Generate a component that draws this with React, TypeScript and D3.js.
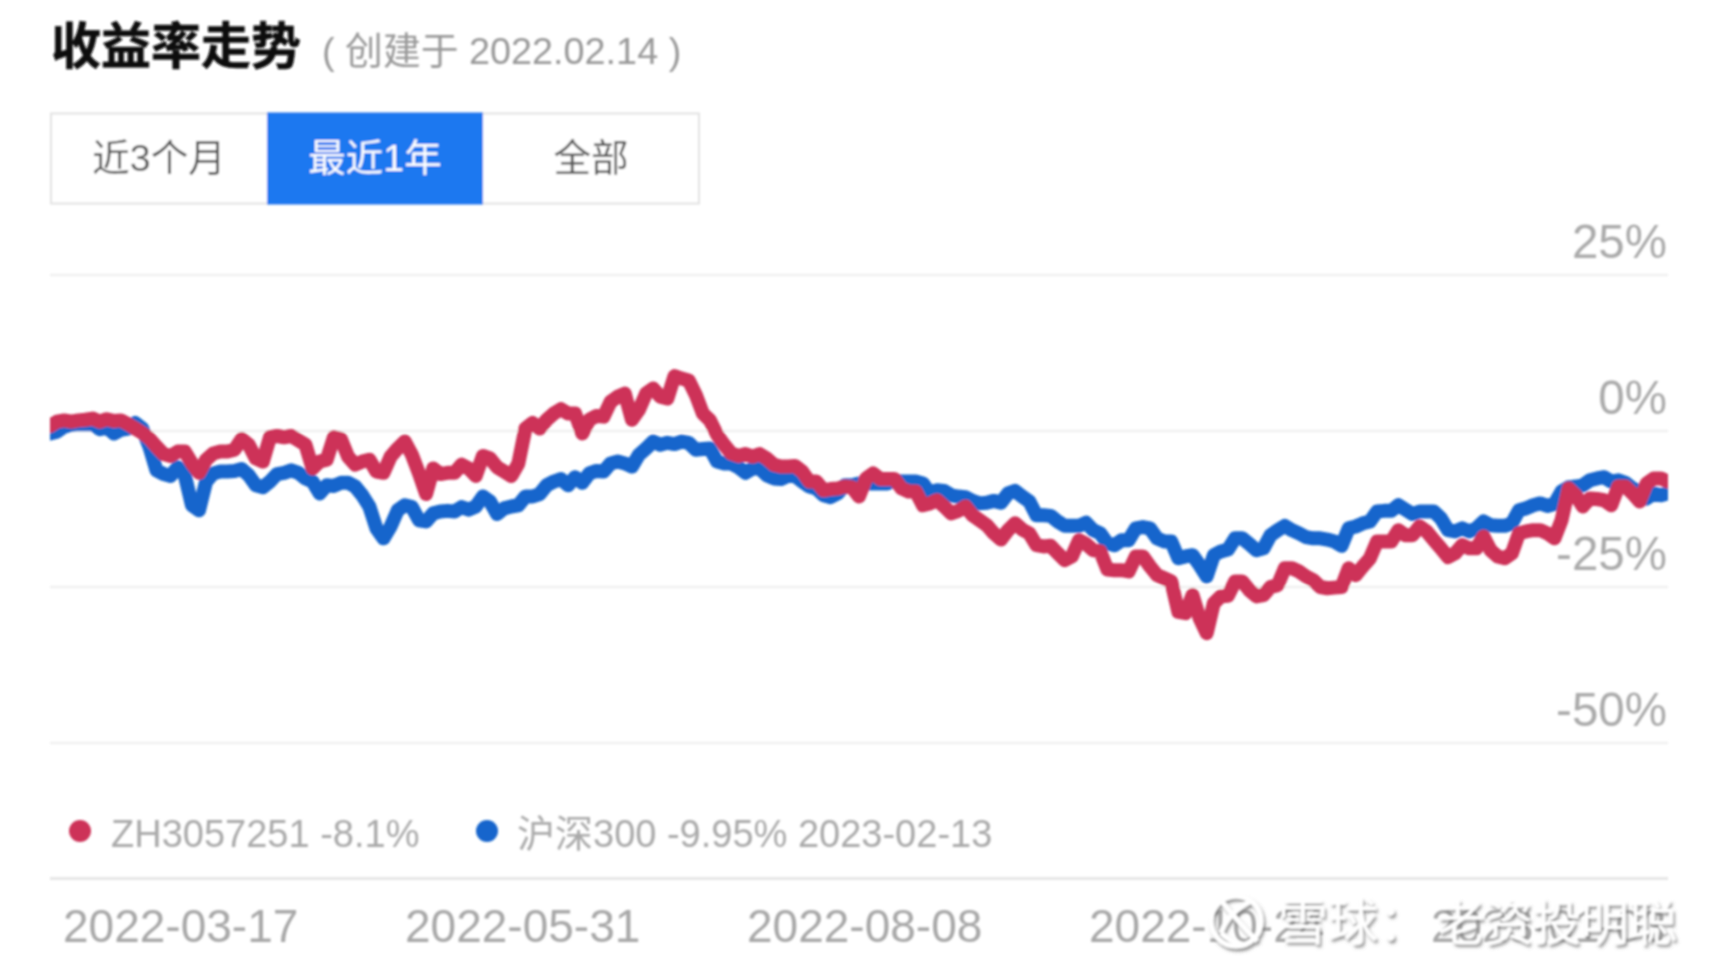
import React from 'react';
import * as d3 from 'd3';

const tabs = ['近3个月', '最近1年', '全部'];
const activeTab = '最近1年';
const yTicks = [25, 0, -25, -50];
const dateLabels = ['2022-03-17', '2022-05-31', '2022-08-08', '2022-10-24', '2023-01-03'];

// one value per trading day, in percent
const portfolio = [
  0.8, 1.5, 1.7, 1.5, 1.7, 1.8, 2.0, 1.5, 1.9, 1.6, 1.7, 1.1, 0.4, -0.3, -1.2, -2.5, -3.7, -4.0, -3.3, -3.3,
  -5.2, -6.7, -4.6, -3.6, -3.3, -3.3, -3.0, -1.3, -2.2, -4.4, -4.9, -1.0, -0.8, -1.0, -0.8, -1.5, -2.2, -6.0, -4.9, -4.6,
  -1.0, -1.3, -4.1, -5.4, -4.9, -4.6, -6.5, -6.7, -4.1, -2.8, -1.7, -3.8, -6.8, -10.1, -6.0, -6.9, -6.7, -6.7, -5.4, -6.0,
  -7.2, -4.0, -4.4, -5.8, -6.5, -7.2, -5.2, 0.4, 1.3, 0.4, 1.8, 2.8, 3.5, 2.8, 2.8, -0.4, 1.8, 2.4, 2.3, 4.7,
  5.5, 6.0, 1.8, 3.4, 6.0, 6.8, 5.5, 5.2, 8.8, 8.4, 8.1, 5.8, 2.8, 1.7, -0.6, -2.2, -3.6, -4.0, -3.7, -4.1,
  -3.7, -4.4, -5.4, -5.7, -5.7, -5.6, -6.5, -8.1, -8.1, -9.5, -9.3, -9.2, -8.9, -9.0, -10.5, -7.6, -6.8, -7.7, -7.7, -7.7,
  -9.2, -9.7, -9.7, -11.9, -11.6, -11.1, -12.1, -13.2, -12.8, -12.1, -13.5, -14.3, -15.1, -16.4, -17.4, -15.9, -14.8, -15.8, -16.4, -18.3,
  -18.5, -18.4, -19.6, -20.7, -20.1, -17.5, -18.1, -19.1, -19.3, -22.2, -22.3, -22.3, -22.5, -20.1, -20.1, -21.7, -23.1, -23.6, -24.1, -29.0,
  -29.2, -26.3, -30.0, -32.4, -27.6, -26.5, -26.4, -24.1, -24.1, -25.5, -26.5, -26.3, -25.0, -24.7, -22.0, -22.0, -22.5, -23.3, -23.9, -25.0,
  -25.2, -25.1, -25.0, -22.0, -23.1, -21.7, -20.4, -17.7, -17.7, -17.7, -15.9, -16.7, -16.7, -15.3, -16.1, -17.5, -18.8, -20.2, -19.6, -18.3,
  -18.8, -18.8, -16.9, -19.1, -20.1, -20.4, -19.6, -16.4, -16.1, -15.9, -15.9, -16.4, -17.2, -14.3, -9.2, -10.3, -12.1, -10.8, -10.9, -11.1,
  -11.9, -8.9, -8.9, -10.0, -11.3, -8.4, -7.6, -7.6, -8.1,
];

const csi300 = [
  -0.4, -0.1, 0.7, 1.0, 1.1, 1.1, 1.1, 0.3, 0.6, -0.4, 0.2, 0.4, 1.3, 0.4, -2.5, -6.3, -6.9, -7.2, -5.8, -7.1,
  -11.9, -12.7, -8.1, -6.8, -6.5, -6.5, -6.4, -6.1, -7.1, -8.7, -9.0, -8.1, -6.9, -6.7, -6.3, -6.7, -7.6, -8.1, -10.0, -8.7,
  -8.8, -8.3, -8.3, -8.9, -10.3, -12.1, -15.6, -17.2, -15.3, -12.7, -11.9, -12.2, -14.3, -14.5, -13.2, -12.9, -12.8, -12.9, -12.2, -12.6,
  -12.1, -10.5, -11.3, -13.3, -12.4, -12.1, -11.9, -10.5, -10.5, -10.1, -8.7, -8.1, -7.7, -8.7, -7.4, -8.3, -6.8, -6.4, -6.5, -5.2,
  -4.9, -5.2, -5.7, -3.8, -2.8, -1.7, -2.2, -1.9, -2.1, -1.7, -1.9, -3.0, -2.9, -2.8, -4.9, -5.2, -5.2, -5.8, -6.7, -6.0,
  -6.0, -7.1, -7.6, -7.7, -7.2, -7.2, -8.1, -8.9, -9.2, -10.3, -10.6, -10.0, -8.7, -8.7, -8.4, -8.4, -8.4, -8.4, -8.4, -7.9,
  -8.1, -8.1, -8.1, -8.4, -10.0, -9.5, -9.6, -10.3, -10.5, -10.6, -11.2, -11.6, -11.5, -11.2, -11.5, -10.0, -9.6, -10.5, -11.3, -13.5,
  -13.5, -13.6, -14.5, -15.2, -15.2, -15.2, -14.7, -15.9, -16.4, -18.0, -18.3, -17.5, -17.5, -15.6, -15.4, -15.6, -17.2, -17.7, -17.7, -20.4,
  -20.1, -19.9, -21.5, -23.3, -19.9, -19.3, -19.0, -17.2, -17.2, -18.1, -19.1, -18.8, -16.7, -15.9, -15.2, -15.9, -16.4, -17.0, -17.2, -17.2,
  -17.4, -17.7, -18.4, -15.6, -15.3, -14.8, -14.5, -12.9, -12.8, -12.8, -11.9, -12.6, -13.3, -12.9, -12.9, -12.9, -14.0, -15.9, -16.1, -15.6,
  -16.1, -15.6, -14.5, -15.1, -15.2, -15.2, -14.8, -12.7, -12.4, -11.9, -11.6, -12.0, -11.7, -9.7, -9.0, -8.9, -8.7, -7.9, -7.6, -7.4,
  -8.1, -7.9, -8.3, -9.2, -9.7, -10.8, -10.0, -10.3, -9.95,
];

const width = 1729;
const height = 977;
const RED = '#cd3358';
const BLUE = '#1565cc';
const FONT = '"Liberation Sans", "Noto Sans CJK SC", sans-serif';

export default function App() {
  const x = d3.scaleLinear().domain([0, portfolio.length - 1]).range([50, 1668]);
  const y = d3.scaleLinear().domain([25, -50]).range([275, 743]);
  const tabX = d3.scaleBand().domain(tabs).range([51, 699]);
  const dateX = d3.scaleLinear().domain([0, 1]).range([63, 405]);

  const line = d3.line<number>()
    .x((_, i) => x(i))
    .y(d => y(d));

  return (
    <svg
      width={width}
      height={height}
      style={{ position: 'fixed', left: 0, top: 0, background: '#fff' }}
      fontFamily={FONT}
    >
      <defs>
        <filter id="soft" x="-5%" y="-5%" width="110%" height="110%">
          <feGaussianBlur stdDeviation="0.9" />
        </filter>
        <filter id="wm" x="-10%" y="-30%" width="120%" height="160%">
          <feDropShadow dx="2" dy="3" stdDeviation="1.5" floodColor="#777" floodOpacity="0.8" />
        </filter>
        <clipPath id="plot">
          <rect x={50} y={200} width={1618} height={600} />
        </clipPath>
      </defs>

      <g filter="url(#soft)">
        <text x={51} y={64} fontSize={50} fontWeight={700} fill="#111" stroke="#111" strokeWidth={0.6}>收益率走势</text>
        <text x={322} y={64} fontSize={37.8} fill="#999">( 创建于 2022.02.14 )</text>

        <rect x={51} y={113.5} width={648} height={90} fill="#fff" stroke="#e2e2e2" strokeWidth={2} />
        {tabs.map(t => (
          <g key={t}>
            {t === activeTab && (
              <rect x={tabX(t)} y={112.5} width={tabX.bandwidth()} height={92} fill="#1a78f0" />
            )}
            <text
              x={tabX(t)! + tabX.bandwidth() / 2}
              y={171}
              fontSize={37.5}
              textAnchor="middle"
              fill={t === activeTab ? '#fff' : '#555'}
            >
              {t}
            </text>
          </g>
        ))}

        {yTicks.map(t => (
          <g key={t}>
            <line x1={50} x2={1668} y1={y(t)} y2={y(t)} stroke="#f0f0f0" strokeWidth={2.5} />
            <text x={1667} y={y(t) - 17} fontSize={47.5} textAnchor="end" fill="#aaa">{t}%</text>
          </g>
        ))}

        <g clipPath="url(#plot)">
          <path d={line(csi300)!} fill="none" stroke={BLUE} strokeWidth={14} strokeLinejoin="round" strokeLinecap="round" />
          <path d={line(portfolio)!} fill="none" stroke={RED} strokeWidth={14} strokeLinejoin="round" strokeLinecap="round" />
        </g>

        <circle cx={80} cy={831} r={11} fill={RED} />
        <text x={111} y={851} dy={-4} fontSize={38} fill="#aaa">ZH3057251 -8.1%</text>
        <circle cx={487} cy={831} r={11} fill={BLUE} />
        <text x={517} y={851} dy={-4} fontSize={38} fill="#aaa">沪深300 -9.95% 2023-02-13</text>

        <line x1={50} x2={1668} y1={878.5} y2={878.5} stroke="#e6e6e6" strokeWidth={3} />
        {dateLabels.map((d, i) => (
          <text key={d} x={dateX(i)} y={941.5} fontSize={46} fill="#a8a8a8">{d}</text>
        ))}

        <g filter="url(#wm)">
          <circle cx={1236} cy={921} r={25} fill="none" stroke="#fff" strokeWidth={5} />
          <path
            d="M1219 898 C1231 913 1245 929 1257 941 M1251 901 C1235 909 1225 921 1221 933 M1221 933 C1227 939 1235 943 1243 945"
            fill="none"
            stroke="#fff"
            strokeWidth={5}
          />
          <text x={1278} y={940} fontSize={50} fill="#fff">雪球：</text>
          <text x={1437} y={940} fontSize={48} fill="#fff">老资投明聪</text>
        </g>
      </g>
    </svg>
  );
}
